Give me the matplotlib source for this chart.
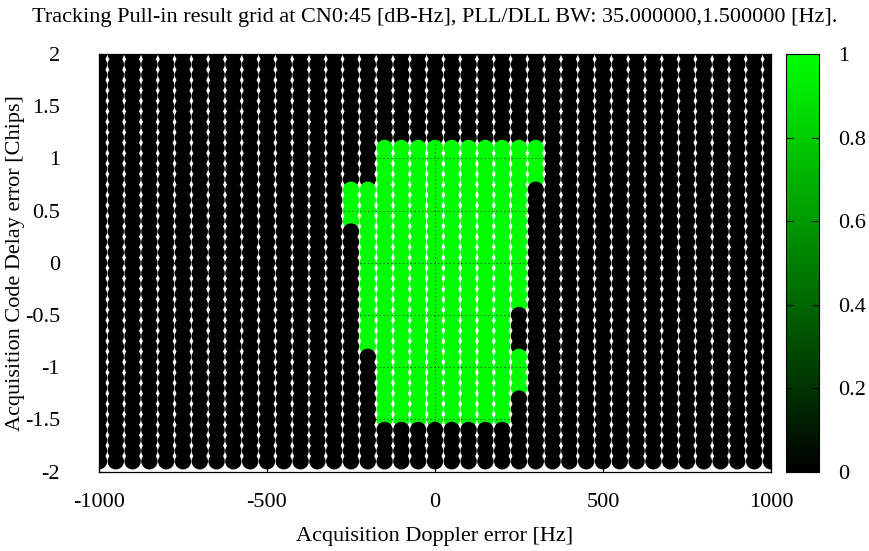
"""
Tracking pull-in result grid: which acquisition (Doppler, code delay) errors
the tracking loops pulled in from at CN0 45 dB-Hz.
"""

import numpy as np
import matplotlib
matplotlib.use("Agg")
import matplotlib.pyplot as plt
from matplotlib.colors import LinearSegmentedColormap

plt.rcParams["font.family"] = ["Liberation Serif", "DejaVu Serif"]

# grid of tested acquisition errors
doppler_hz = np.arange(-1000, 1050, 50)                 # 41 columns
delay_chips = np.round(np.arange(2.0, -1.95, -0.1), 1)  # 2.0 ... -1.9

# pull-in succeeded (value 1) inside these code-delay intervals, per Doppler column
lock_doppler = [-250, -200, -150, -100, -50, 0, 50, 100, 150, 200, 250, 250, 300]
lock_delay_top = [0.7, 0.7, 1.1, 1.1, 1.1, 1.1, 1.1, 1.1, 1.1, 1.1, 1.1, -0.9, 1.1]
lock_delay_bottom = [0.4, -0.8, -1.5, -1.5, -1.5, -1.5, -1.5, -1.5, -1.5, -1.5, -0.4, -1.2, 0.8]

x_ticks = [-1000, -500, 0, 500, 1000]
y_ticks = [-2, -1.5, -1, -0.5, 0, 0.5, 1, 1.5, 2]
y_ticklabels = ["-2", "-1.5", "-1", "-0.5", "0", "0.5", "1", "1.5", "2"]
cb_ticks = [0, 0.2, 0.4, 0.6, 0.8, 1]
cb_ticklabels = ["0", "0.2", "0.4", "0.6", "0.8", "1"]

TITLE = ("Tracking Pull-in result grid at CN0:45 [dB-Hz], "
         "PLL/DLL BW: 35.000000,1.500000 [Hz].")


def build_points():
    xs, ys, vals = [], [], []
    # top row first so each lower point covers the one above (gnuplot look)
    for d in delay_chips:
        for f in doppler_hz:
            v = 0.0
            for lf, top, bot in zip(lock_doppler, lock_delay_top, lock_delay_bottom):
                if lf == f and bot - 1e-6 <= d <= top + 1e-6:
                    v = 1.0
            xs.append(f)
            ys.append(d)
            vals.append(v)
    return xs, ys, vals


def main():
    xs, ys, vals = build_points()
    cmap = LinearSegmentedColormap.from_list("blackgreen", ["#000000", "#00ff00"])

    fig = plt.figure(figsize=(8.69, 5.51), dpi=100)
    ax = fig.add_axes([0.1139, 0.1439, 0.7733, 0.7581])
    cax = fig.add_axes([0.9041, 0.1439, 0.0383, 0.7581])

    # points drawn above the border, like the gnuplot output
    sc = ax.scatter(xs, ys, c=vals, cmap=cmap, vmin=0, vmax=1,
                    s=139, marker="o", linewidths=0, zorder=3)

    # dotted grid on top (only shows over the green points)
    for xv in x_ticks[1:-1]:
        ax.axvline(xv, color="#000000", linestyle=(0, (1.5, 2.5)),
                   linewidth=0.7, alpha=0.6, zorder=4)
    for yv in y_ticks[1:-1]:
        ax.axhline(yv, color="#000000", linestyle=(0, (1.5, 2.5)),
                   linewidth=0.7, alpha=0.6, zorder=4)

    ax.set_xlim(-1000, 1000)
    ax.set_ylim(-2, 2)
    ax.set_xticks(x_ticks)
    ax.set_xticklabels([str(v) for v in x_ticks])
    ax.set_yticks(y_ticks)
    ax.set_yticklabels(y_ticklabels)
    ax.tick_params(direction="in", length=5, width=0.8, labelsize=16,
                   top=True, right=True)
    ax.tick_params(axis="x", pad=15)
    ax.tick_params(axis="y", pad=28)
    for sp in ax.spines.values():
        sp.set_linewidth(0.9)

    ax.set_xlabel("Acquisition Doppler error [Hz]", fontsize=16, labelpad=11)
    ax.set_ylabel("Acquisition Code Delay error [Chips]", fontsize=16)
    ax.yaxis.set_label_coords(-0.1095, 0.5)
    ax.set_title(TITLE, fontsize=16, pad=23)

    cb = fig.colorbar(sc, cax=cax)
    cb.set_ticks(cb_ticks)
    cb.set_ticklabels(cb_ticklabels)
    cb.ax.tick_params(direction="in", length=5, width=0.8, labelsize=16,
                      left=True, right=True, pad=14)
    cb.outline.set_linewidth(0.8)

    fig.savefig("out.png", dpi=100)
    plt.close(fig)


if __name__ == "__main__":
    main()
